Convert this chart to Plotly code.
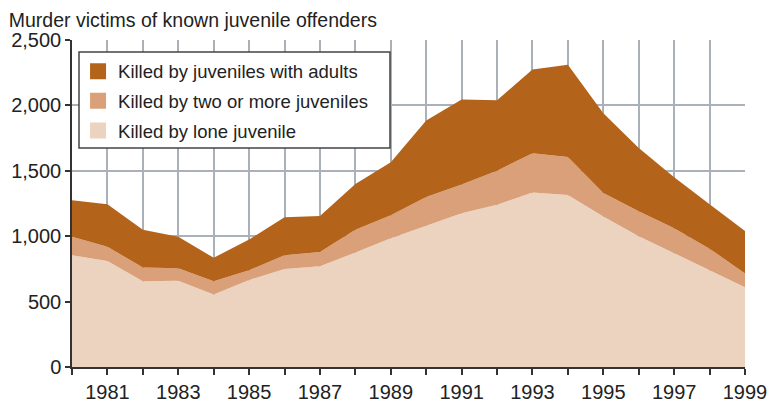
import plotly.graph_objects as go

years = list(range(1980, 2000))
# victims per year, by type of offender group
lone_juvenile = [855, 810, 655, 660, 555, 665, 750, 770, 875, 985,
                 1080, 1175, 1240, 1335, 1315, 1150, 1000, 870, 740, 610]
two_or_more = [140, 110, 105, 95, 100, 75, 105, 110, 175, 175,
               220, 220, 260, 300, 290, 180, 190, 190, 165, 105]
with_adults = [280, 325, 290, 240, 180, 235, 290, 275, 350, 405,
               585, 650, 540, 640, 705, 610, 485, 390, 340, 325]
series_names = ["Killed by lone juvenile", "Killed by two or more juveniles",
                "Killed by juveniles with adults"]
x_tick_text = [str(y) if y % 2 == 1 else "" for y in years]

colors = ["#ecd3c0", "#d9a079", "#b4631b"]
font = "Liberation Sans, Arial, sans-serif"

fig = go.Figure()
for name, vals, col in zip(series_names, [lone_juvenile, two_or_more, with_adults], colors):
    fig.add_trace(go.Scatter(x=years, y=vals, name=name, mode="lines",
                             stackgroup="one", fillcolor=col,
                             line=dict(width=0, color=col),
                             showlegend=False, hoverinfo="x+y+name"))

# square swatches for the legend, top to bottom
for i, (name, col) in enumerate(zip(series_names[::-1], colors[::-1])):
    fig.add_trace(go.Scatter(x=[None], y=[None], name=name, mode="markers",
                             marker=dict(symbol="square", size=18, color=col),
                             legendgroup="g%d" % i, showlegend=True))

# page has an 8px body margin, so the figure is 8px smaller each way
grid = "#aab1b9"
fig.update_layout(
    width=771, height=394,
    margin=dict(l=64, r=34, t=32, b=35, autoexpand=False),
    paper_bgcolor="white", plot_bgcolor="white",
    font=dict(family=font, size=20, color="#222"),
    title=dict(text="Murder victims of known juvenile offenders",
               x=0.001, xanchor="left", xref="container",
               y=0.986, yanchor="top", yref="container", automargin=False,
               font=dict(size=19.5, color="#222")),
    legend=dict(x=0.009, y=0.961, xanchor="left", yanchor="top",
                bgcolor="rgba(0,0,0,0)", borderwidth=0,
                font=dict(size=18.5, color="#222"),
                traceorder="grouped", tracegroupgap=2.5),
    shapes=[dict(type="rect", xref="paper", yref="paper",
                 x0=0.0104, x1=0.4725, y0=0.6697, y1=0.9633,
                 fillcolor="white", line=dict(color="#444", width=1.5),
                 layer="above")],
)
fig.update_xaxes(range=[1980, 1999], tickvals=years, ticktext=x_tick_text,
                 showgrid=True, gridcolor=grid, gridwidth=2,
                 showline=True, linecolor="#333", linewidth=1.5,
                 ticks="outside", ticklen=6, tickcolor="#333", tickwidth=1.5,
                 zeroline=False, fixedrange=True, automargin=False)
fig.update_yaxes(range=[0, 2500], dtick=500, tickformat=",",
                 showgrid=True, gridcolor=grid, gridwidth=2,
                 showline=True, linecolor="#333", linewidth=1.5,
                 ticks="outside", ticklen=5, tickcolor="#333", tickwidth=1.5,
                 zeroline=False, fixedrange=True, automargin=False)

fig.write_html("out.html")
